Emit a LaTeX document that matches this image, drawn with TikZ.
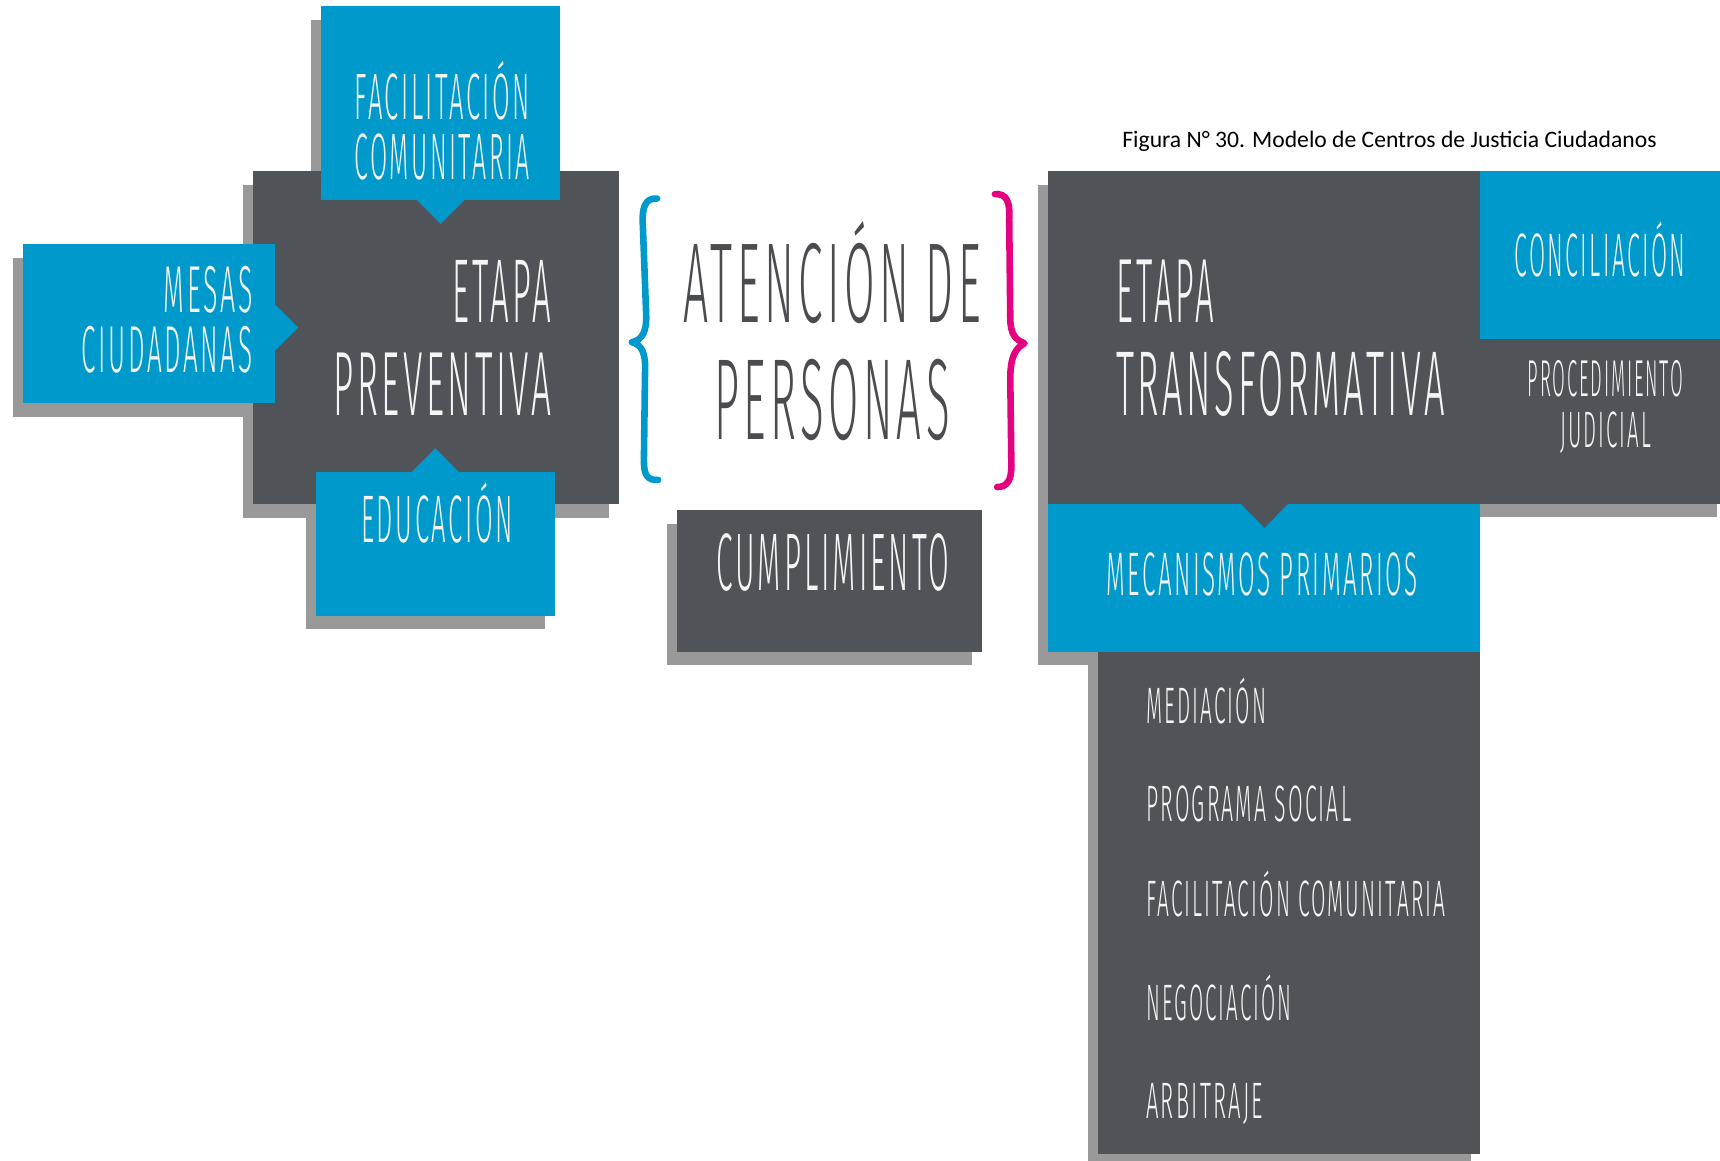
\documentclass[tikz,border=0pt]{standalone}
\usepackage{fontspec}
\usepackage{graphicx}
\IfFontExistsTF{Fira Sans Light}{\newfontfamily\hand{Fira Sans Light}[LetterSpace=10]}{\newfontfamily\hand{Fira Sans}[LetterSpace=10]}
\newfontfamily\capfont{Carlito}
\definecolor{cblue}{RGB}{0,153,204}
\definecolor{darkc}{RGB}{80,83,88}
\definecolor{shadowc}{RGB}{153,153,153}
\definecolor{pinkc}{RGB}{228,0,127}
\definecolor{txtc}{RGB}{245,245,245}
\definecolor{atxt}{RGB}{74,76,80}
\newcommand\fit[3]{\resizebox{#1pt}{#2pt}{\hand\raisebox{0pt}[\fontcharht\font`E][0pt]{#3\kern-0.1em}}}
\begin{document}
\begin{tikzpicture}[x=1pt,y=-1pt,
  tl/.style={anchor=base west,inner sep=0pt,text=txtc},
  tr/.style={anchor=base east,inner sep=0pt,text=txtc},
  brace/.style={line width=6pt,line cap=round,line join=round}]
\useasboundingbox (0,0) rectangle (1568,1057.5);
% shadows
\fill[shadowc] (283.4,18.3) rectangle (501,195.7);
\fill[shadowc] (221.4,168.9) rectangle (555,472.1);
\fill[shadowc] (11.9,235.6) rectangle (241,380.1);
\fill[shadowc] (278.8,443.2) rectangle (496.5,573);
\fill[shadowc] (608,478) rectangle (886,606);
\fill[shadowc] (946,168.6) rectangle (1565.6,471.4);
\fill[shadowc] (946,460) rectangle (1340,606);
\fill[shadowc] (992.2,600) rectangle (1340.6,1064);
% left group
\fill[darkc] (230.7,155.9) rectangle (564.4,459);
\fill[cblue] (292.6,5.3) rectangle (510.3,182.7);
\fill[cblue] (380,182.5) -- (423.4,182.5) -- (401.7,204.3) -- cycle;
\fill[cblue] (21.2,222.6) rectangle (250.3,367.1);
\fill[cblue] (250,276.9) -- (271.8,298.6) -- (250,320.3) -- cycle;
\fill[cblue] (288.1,430.2) rectangle (505.8,561.6);
\fill[cblue] (375.1,430.4) -- (396.8,408.6) -- (418.5,430.4) -- cycle;
% middle
\fill[darkc] (617,465) rectangle (895,594);
\draw[brace,cblue] (599,181) .. controls (588,180) and (585,190) .. (586,205)
  -- (589,285) .. controls (590,303) and (585,310) .. (576,312)
  .. controls (585,314) and (589,322) .. (588,340)
  -- (587,420) .. controls (587,433) and (590,438) .. (600,437.5);
\draw[brace,pinkc] (907,177) .. controls (918,176) and (921,185) .. (920,200)
  -- (921,290) .. controls (921,305) and (926,310) .. (934,313)
  .. controls (926,317) and (921,325) .. (921,345)
  -- (922,425) .. controls (922,438) and (918,444) .. (909,444);
% right group
\fill[darkc] (955.4,156) rectangle (1568,459.4);
\fill[cblue] (1349.2,156) rectangle (1568,308.9);
\fill[cblue] (955.4,459.2) rectangle (1349.2,594.2);
\fill[darkc] (1131,459) -- (1174.4,459) -- (1152.7,481.2) -- cycle;
\fill[darkc] (1000.7,594) rectangle (1349.2,1051.6);
% texts left
\node[tl] (fac1) at (323,109) {\fit{157.5}{41}{FACILITACIÓN}};
\node[tl] (fac2) at (323,164) {\fit{157.5}{41}{COMUNITARIA}};
\node[tr] (mes1) at (228,285) {\fit{78.5}{41.5}{MESAS}};
\node[tr] (mes2) at (228,340) {\fit{153.5}{41.5}{CIUDADANAS}};
\node[tr] (etp1) at (500,294) {\fit{87}{56.6}{ETAPA}};
\node[tr] (etp2) at (500,378.5) {\fit{195.5}{57}{PREVENTIVA}};
\node[tl] (edu) at (329,495) {\fit{136}{42}{EDUCACIÓN}};
% texts middle
\node[tl,text=atxt] (at1) at (623,294) {\fit{267}{71}{ATENCIÓN DE}};
\node[tl,text=atxt] (at2) at (651,400.6) {\fit{210.5}{72}{PERSONAS}};
\node[tl] (cum) at (652.7,538) {\fit{210}{51}{CUMPLIMIENTO}};
% caption
\node[anchor=base west,inner sep=0pt,text=black] (cap) at (1023,134.7)
  {\resizebox{487pt}{!}{\capfont Figura N° 30. Modelo de Centros de Justicia Ciudadanos}};
% texts right
\node[tl] (con) at (1380.6,252.3) {\fit{153.7}{38.4}{CONCILIACIÓN}};
\node[tl] (pro1) at (1392.5,361.5) {\fit{139.8}{32.4}{PROCEDIMIENTO}};
\node[tl] (pro2) at (1422,407.5) {\fit{81}{32}{JUDICIAL}};
\node[tl] (ett1) at (1017.3,294.2) {\fit{86.7}{57}{ETAPA}};
\node[tl] (ett2) at (1017.3,379) {\fit{296.5}{57.5}{TRANSFORMATIVA}};
\node[tl] (mec) at (1008.8,543) {\fit{281}{38.4}{MECANISMOS PRIMARIOS}};
\node[tl] (i1) at (1044.7,660) {\fit{107.6}{32}{MEDIACIÓN}};
\node[tl] (i2) at (1044.7,748.8) {\fit{185}{32}{PROGRAMA SOCIAL}};
\node[tl] (i3) at (1044.7,835.8) {\fit{271}{32}{FACILITACIÓN COMUNITARIA}};
\node[tl] (i4) at (1044.7,930.5) {\fit{130.6}{32}{NEGOCIACIÓN}};
\node[tl] (i5) at (1044.7,1019.7) {\fit{104.6}{32}{ARBITRAJE}};
\end{tikzpicture}
\end{document}
